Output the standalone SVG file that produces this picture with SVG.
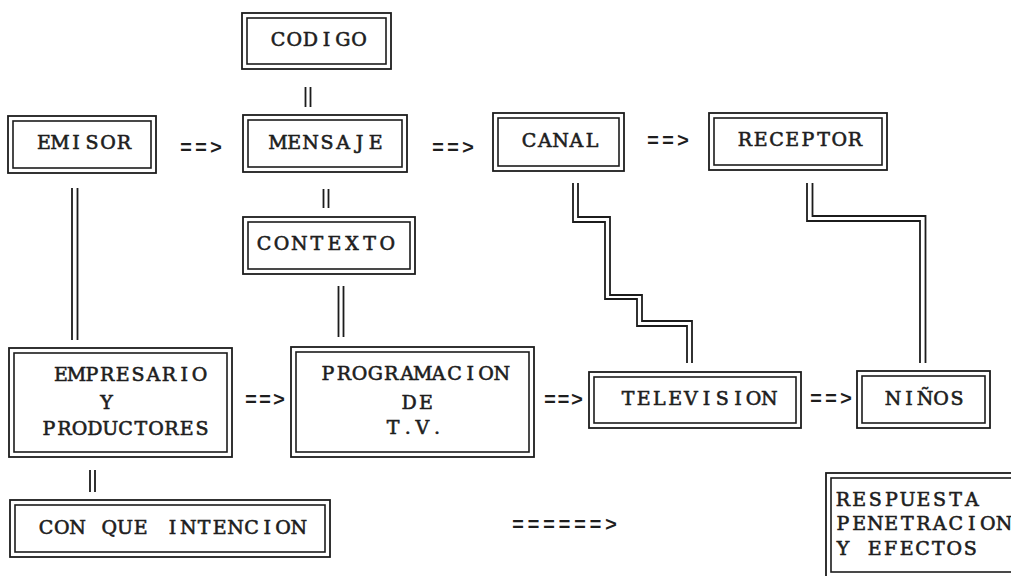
<svg xmlns="http://www.w3.org/2000/svg" width="1011" height="576" viewBox="0 0 1011 576">
<style>
.o{fill:none;stroke:#1c1c1c;stroke-width:1.8}
.i{fill:none;stroke:#1c1c1c;stroke-width:1.6}
.t{font-family:"DejaVu Serif","Liberation Serif",serif;font-size:19px;fill:#1e1e1e;stroke:#1e1e1e;stroke-width:0.6px;text-anchor:middle}
.a{font-family:"Liberation Mono","DejaVu Sans Mono",monospace;font-size:20px;font-weight:bold;fill:#1e1e1e;text-anchor:middle}
.c{fill:none;stroke:#1c1c1c;stroke-width:1.8;stroke-linejoin:miter}
</style>
<rect width="1011" height="576" fill="#ffffff"/>
<g id="codigo"><rect class="o" x="242" y="13" width="149" height="56"/><rect class="i" x="247" y="18" width="139" height="46"/><text class="t" x="278 294.2 310.4 326.6 342.8 359" y="46">CODIGO</text></g>
<g id="emisor"><rect class="o" x="8" y="116" width="148" height="57"/><rect class="i" x="13" y="121" width="138" height="47"/><text class="t" x="44 60 76 92 108 124" y="149">EMISOR</text></g>
<g id="mensaje"><rect class="o" x="243" y="115" width="164" height="57"/><rect class="i" x="248" y="120" width="154" height="47"/><text class="t" x="278 294.3 310.6 326.9 343.2 359.5 375.8" y="149">MENSAJE</text></g>
<g id="canal"><rect class="o" x="493" y="113" width="131" height="58"/><rect class="i" x="498" y="118" width="121" height="48"/><text class="t" x="529 544.8 560.5 576.3 592" y="147">CANAL</text></g>
<g id="receptor"><rect class="o" x="709" y="113" width="178" height="57"/><rect class="i" x="714" y="118" width="168" height="47"/><text class="t" x="745 760.7 776.4 792.1 807.8 823.5 839.2 854.9" y="146">RECEPTOR</text></g>
<g id="contexto"><rect class="o" x="243" y="217" width="172" height="57"/><rect class="i" x="248" y="222" width="162" height="47"/><text class="t" x="264 281.6 299.2 316.8 334.4 352 369.6 387.2" y="250">CONTEXTO</text></g>
<g id="empresario"><rect class="o" x="9" y="348" width="223" height="109"/><rect class="i" x="14" y="353" width="213" height="99"/><text class="t" x="61 76.4 91.8 107.2 122.6 138 153.4 168.8 184.2 199.6" y="381">EMPRESARIO</text><text class="t" x="106.5" y="409">Y</text><text class="t" x="49 64.3 79.6 94.9 110.2 125.5 140.8 156.1 171.4 186.7 202" y="435">PRODUCTORES</text></g>
<g id="programacion"><rect class="o" x="291" y="347" width="243" height="110"/><rect class="i" x="296" y="352" width="233" height="100"/><text class="t" x="328 343.8 359.6 375.4 391.2 407 422.8 438.6 454.4 470.2 486 501.8" y="380">PROGRAMACION</text><text class="t" x="409 426" y="409">DE</text><text class="t" x="393 407.7 422.3 437" y="434">T.V.</text></g>
<g id="television"><rect class="o" x="589" y="372" width="212" height="56"/><rect class="i" x="594" y="377" width="202" height="46"/><text class="t" x="628 643.7 659.4 675.1 690.8 706.5 722.2 737.9 753.6 769.3" y="405">TELEVISION</text></g>
<g id="ninos"><rect class="o" x="857" y="371" width="133" height="57"/><rect class="i" x="862" y="376" width="123" height="47"/><text class="t" x="893 909 925 941 957" y="404.5">NIÑOS</text></g>
<g id="intencion"><rect class="o" x="10" y="500" width="320" height="57"/><rect class="i" x="15" y="505" width="310" height="47"/><text class="t" x="46 61.8 77.6 93.4 109.2 125 140.8 156.6 172.4 188.2 204 219.8 235.6 251.4 267.2 283 298.8" y="534">CON QUE INTENCION</text></g>
<g id="respuesta"><rect class="o" x="826" y="473" width="210" height="120"/><rect class="i" x="831" y="478" width="200" height="94"/><text class="t" x="843 859.1 875.2 891.3 907.4 923.5 939.6 955.7 971.8" y="506">RESPUESTA</text><text class="t" x="843 859.1 875.2 891.3 907.4 923.5 939.6 955.7 971.8 987.9 1004" y="530">PENETRACION</text><text class="t" x="843 858.9 874.8 890.7 906.6 922.5 938.4 954.3 970.2" y="555">Y EFECTOS</text></g>
<g id="connectors">
<path class="c" d="M305.5,87V107M310.5,87V107"/>
<path class="c" d="M323.5,189V208M328.5,189V208"/>
<path class="c" d="M72,188V340M77.5,188V340"/>
<path class="c" d="M338.5,286V337M343.5,286V337"/>
<path class="c" d="M90,470V492M95,470V492"/>
<path class="c" d="M573,183V222H605V299H637V326H687V363"/>
<path class="c" d="M578,183V217H610V295H642V321H692V363"/>
<path class="c" d="M807,183V221H920V363"/>
<path class="c" d="M812.5,183V216H925.5V363"/>
<text class="a" x="186 201 216" y="154">==&gt;</text>
<text class="a" x="438 453 468" y="153.5">==&gt;</text>
<text class="a" x="653 668 683" y="146.5">==&gt;</text>
<text class="a" x="251 265 279" y="405.5">==&gt;</text>
<text class="a" x="550 563.5 577" y="405.5">==&gt;</text>
<text class="a" x="816 831 846" y="404.5">==&gt;</text>
<text class="a" x="518 533.5 549 564.5 580 595.5 611" y="530.5">======&gt;</text>
</g>
</svg>
